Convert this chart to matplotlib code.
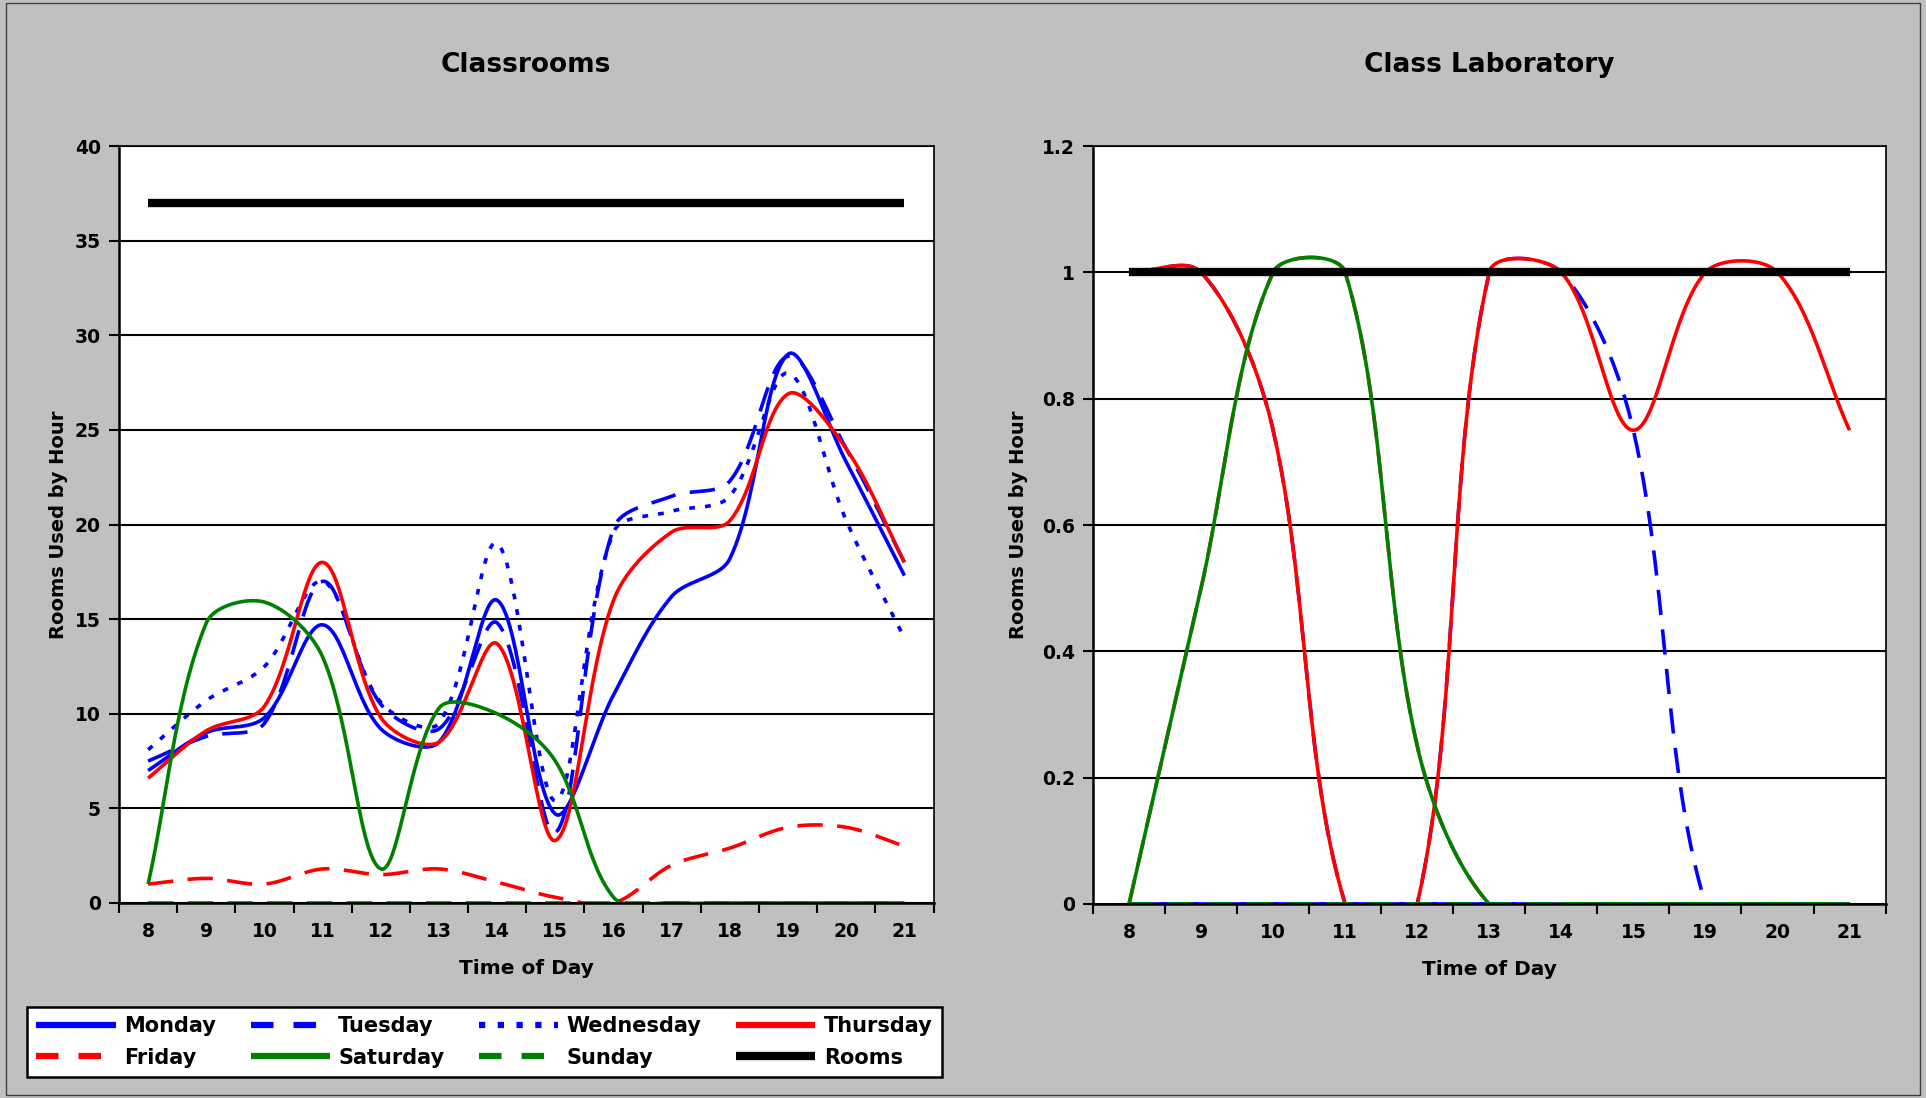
import matplotlib
matplotlib.use('Agg')
import matplotlib.pyplot as plt
import numpy as np
from matplotlib.ticker import FixedLocator, FuncFormatter, NullFormatter
from matplotlib.lines import Line2D
from matplotlib.patches import Rectangle

# Rooms used by hour, classrooms vs class laboratory

class_hours = ['8', '9', '10', '11', '12', '13', '14', '15', '16', '17', '18', '19', '20', '21']
class_monday = [7.0, 9.0, 9.8, 14.7, 9.2, 8.5, 16.0, 4.7, 11.0, 16.2, 18.2, 29.0, 23.3, 17.3]
class_tuesday = [7.5, 8.8, 9.5, 17.0, 10.5, 9.2, 14.8, 3.7, 19.8, 21.5, 22.3, 28.9, 24.0, 18.0]
class_wednesday = [8.1, 10.7, 12.5, 17.0, 10.6, 9.5, 19.0, 5.4, 19.6, 20.7, 21.5, 28.0, 20.2, 14.0]
class_thursday = [6.6, 9.1, 10.4, 18.0, 9.8, 8.5, 13.7, 3.3, 16.0, 19.6, 20.2, 26.9, 24.0, 18.0]
class_friday = [1.0, 1.3, 1.0, 1.8, 1.5, 1.8, 1.1, 0.3, 0.0, 2.0, 2.9, 4.0, 4.0, 3.0]
class_saturday = [1.0, 14.8, 15.9, 13.0, 1.8, 10.3, 10.0, 7.5, 0.3, 0.0, 0.0, 0.0, 0.0, 0.0]
class_sunday = [0.0] * 14
class_rooms = [37] * 14

lab_hours = ['8', '9', '10', '11', '12', '13', '14', '15', '19', '20', '21']
lab_monday = [0, 0, 0, 0, 0, 0, 0, 0, 0, 0, 0]
lab_tuesday = [1, 1, 0.75, 0, 0, 1, 1, 0.75, 0, 0, 0]
lab_wednesday = [0, 0, 0, 0, 0, 0, 0, 0, 0, 0, 0]
lab_thursday = [1, 1, 0.75, 0, 0, 1, 1, 0.75, 1, 1, 0.75]
lab_friday = [0, 0.5, 1, 1, 0.25, 0, 0, 0, 0, 0, 0]
lab_saturday = [0, 0.5, 1, 1, 0.25, 0, 0, 0, 0, 0, 0]
lab_sunday = [0, 0, 0, 0, 0, 0, 0, 0, 0, 0, 0]
lab_rooms = [1] * 11

names = ['Monday', 'Tuesday', 'Wednesday', 'Thursday', 'Friday', 'Saturday', 'Sunday', 'Rooms']
colors = ['#0000FF', '#0000FF', '#0000FF', '#FF0000', '#FF0000', '#008000', '#008000', '#000000']
dashes = [None, (7, 4), (1.6, 2.8), None, (7, 4), None, (7, 4), None]
widths = [2.6, 2.6, 2.6, 2.6, 2.6, 2.6, 2.6, 6]


def smooth(vals, sx, sy, n=30):
    # excel-style smoothed line: bezier segments, tangents weighted by
    # segment length measured on screen (sx, sy = pixels per unit)
    y = np.asarray(vals, float)
    pts = np.column_stack([np.arange(len(y)) * sx, y * sy])
    pts = np.vstack([pts[:1], pts, pts[-1:]])
    t = np.linspace(0, 1, n)[:, None]
    out = []
    for i in range(len(y) - 1):
        p0, p1, p2, p3 = pts[i], pts[i + 1], pts[i + 2], pts[i + 3]
        d01 = np.hypot(*(p1 - p0))
        d12 = np.hypot(*(p2 - p1))
        d23 = np.hypot(*(p3 - p2))
        c1 = p1 + (p2 - p0) * d12 / (3 * max(d01 + d12, 1e-9))
        c2 = p2 - (p3 - p1) * d12 / (3 * max(d12 + d23, 1e-9))
        b = (1 - t) ** 3 * p1 + 3 * (1 - t) ** 2 * t * c1 + 3 * (1 - t) * t ** 2 * c2 + t ** 3 * p2
        out.append(b)
    out = np.vstack(out)
    return out[:, 0] / sx, out[:, 1] / sy


def draw(ax, labels, series, ymax, ystep, title, ylabelpad):
    n = len(labels)
    bb = ax.get_position()
    sx = bb.width * 1926 / n
    sy = bb.height * 1098 / ymax
    for vals, c, d, w in zip(series, colors, dashes, widths):
        if w > 3:
            xs, ys = np.arange(n), np.asarray(vals, float)
        else:
            xs, ys = smooth(vals, sx, sy)
        line, = ax.plot(xs, ys, color=c, lw=w, solid_capstyle='butt', dash_capstyle='butt')
        if d is not None:
            line.set_dashes(d)
    ax.set_xlim(-0.5, n - 0.5)
    ax.set_ylim(0, ymax)
    ax.set_facecolor('white')
    ax.yaxis.set_major_locator(FixedLocator(np.arange(0, ymax + ystep / 2, ystep)))
    ax.yaxis.set_major_formatter(FuncFormatter(lambda v, p: '%g' % round(v, 2)))
    ax.grid(axis='y', color='black', lw=1.5)
    ax.set_axisbelow(True)
    ax.xaxis.set_major_locator(FixedLocator(np.arange(-0.5, n, 1)))
    ax.xaxis.set_major_formatter(NullFormatter())
    ax.set_xticks(np.arange(n), labels, minor=True)
    ax.tick_params(axis='x', which='minor', length=0, pad=14, labelsize=13.5)
    ax.tick_params(axis='x', which='major', length=7, width=1.5)
    ax.tick_params(axis='y', length=7, width=1.5, labelsize=13.5, pad=6)
    for lab in ax.get_xticklabels(minor=True) + ax.get_yticklabels():
        lab.set_fontweight('bold')
    for s in ax.spines.values():
        s.set_color('black')
        s.set_linewidth(1.2)
    ax.spines['left'].set_linewidth(1.8)
    ax.spines['bottom'].set_linewidth(1.8)
    ax.set_xlabel('Time of Day', fontsize=14.5, fontweight='bold', labelpad=13)
    ax.set_ylabel('Rooms Used by Hour', fontsize=14, fontweight='bold', labelpad=ylabelpad)
    fig.text((bb.x0 + bb.x1) / 2, 0.941, title, fontsize=19, fontweight='bold',
             ha='center', va='center')


fig = plt.figure(figsize=(19.26, 10.98), dpi=100, facecolor='#C0C0C0')
ax1 = fig.add_axes([0.0618, 0.1776, 0.4229, 0.6894])
ax2 = fig.add_axes([0.5675, 0.1767, 0.4115, 0.6903])

draw(ax1, class_hours,
     [class_monday, class_tuesday, class_wednesday, class_thursday,
      class_friday, class_saturday, class_sunday, class_rooms],
     40, 5, 'Classrooms', 5)
draw(ax2, lab_hours,
     [lab_monday, lab_tuesday, lab_wednesday, lab_thursday,
      lab_friday, lab_saturday, lab_sunday, lab_rooms],
     1.2, 0.2, 'Class Laboratory', 10)

handles = []
for nm, c, d, w in zip(names, colors, dashes, widths):
    h = Line2D([], [], color=c, lw=4.5 if w < 3 else 6, solid_capstyle='butt')
    if d is not None:
        h.set_dashes((3.6, 3.2) if d[0] > 3 else (1.0, 2.0))
    handles.append(h)
order = [0, 4, 1, 5, 2, 6, 3, 7]
leg = fig.legend([handles[i] for i in order], [names[i] for i in order],
                 loc='lower left', bbox_to_anchor=(0.014, 0.019, 0.475, 0.063),
                 mode='expand', ncol=4, frameon=True, fancybox=False,
                 handlelength=3.8, handletextpad=0.4, borderaxespad=0,
                 prop={'weight': 'bold', 'size': 15}, labelspacing=0.55,
                 borderpad=0.45, facecolor='white', framealpha=1)
leg.get_frame().set_edgecolor('black')
leg.get_frame().set_linewidth(1.8)

fig.patches.append(Rectangle((0.003, 0.003), 0.994, 0.994, transform=fig.transFigure,
                             fill=False, edgecolor='#404040', lw=1))

fig.savefig('out.png', dpi=100, facecolor=fig.get_facecolor())
